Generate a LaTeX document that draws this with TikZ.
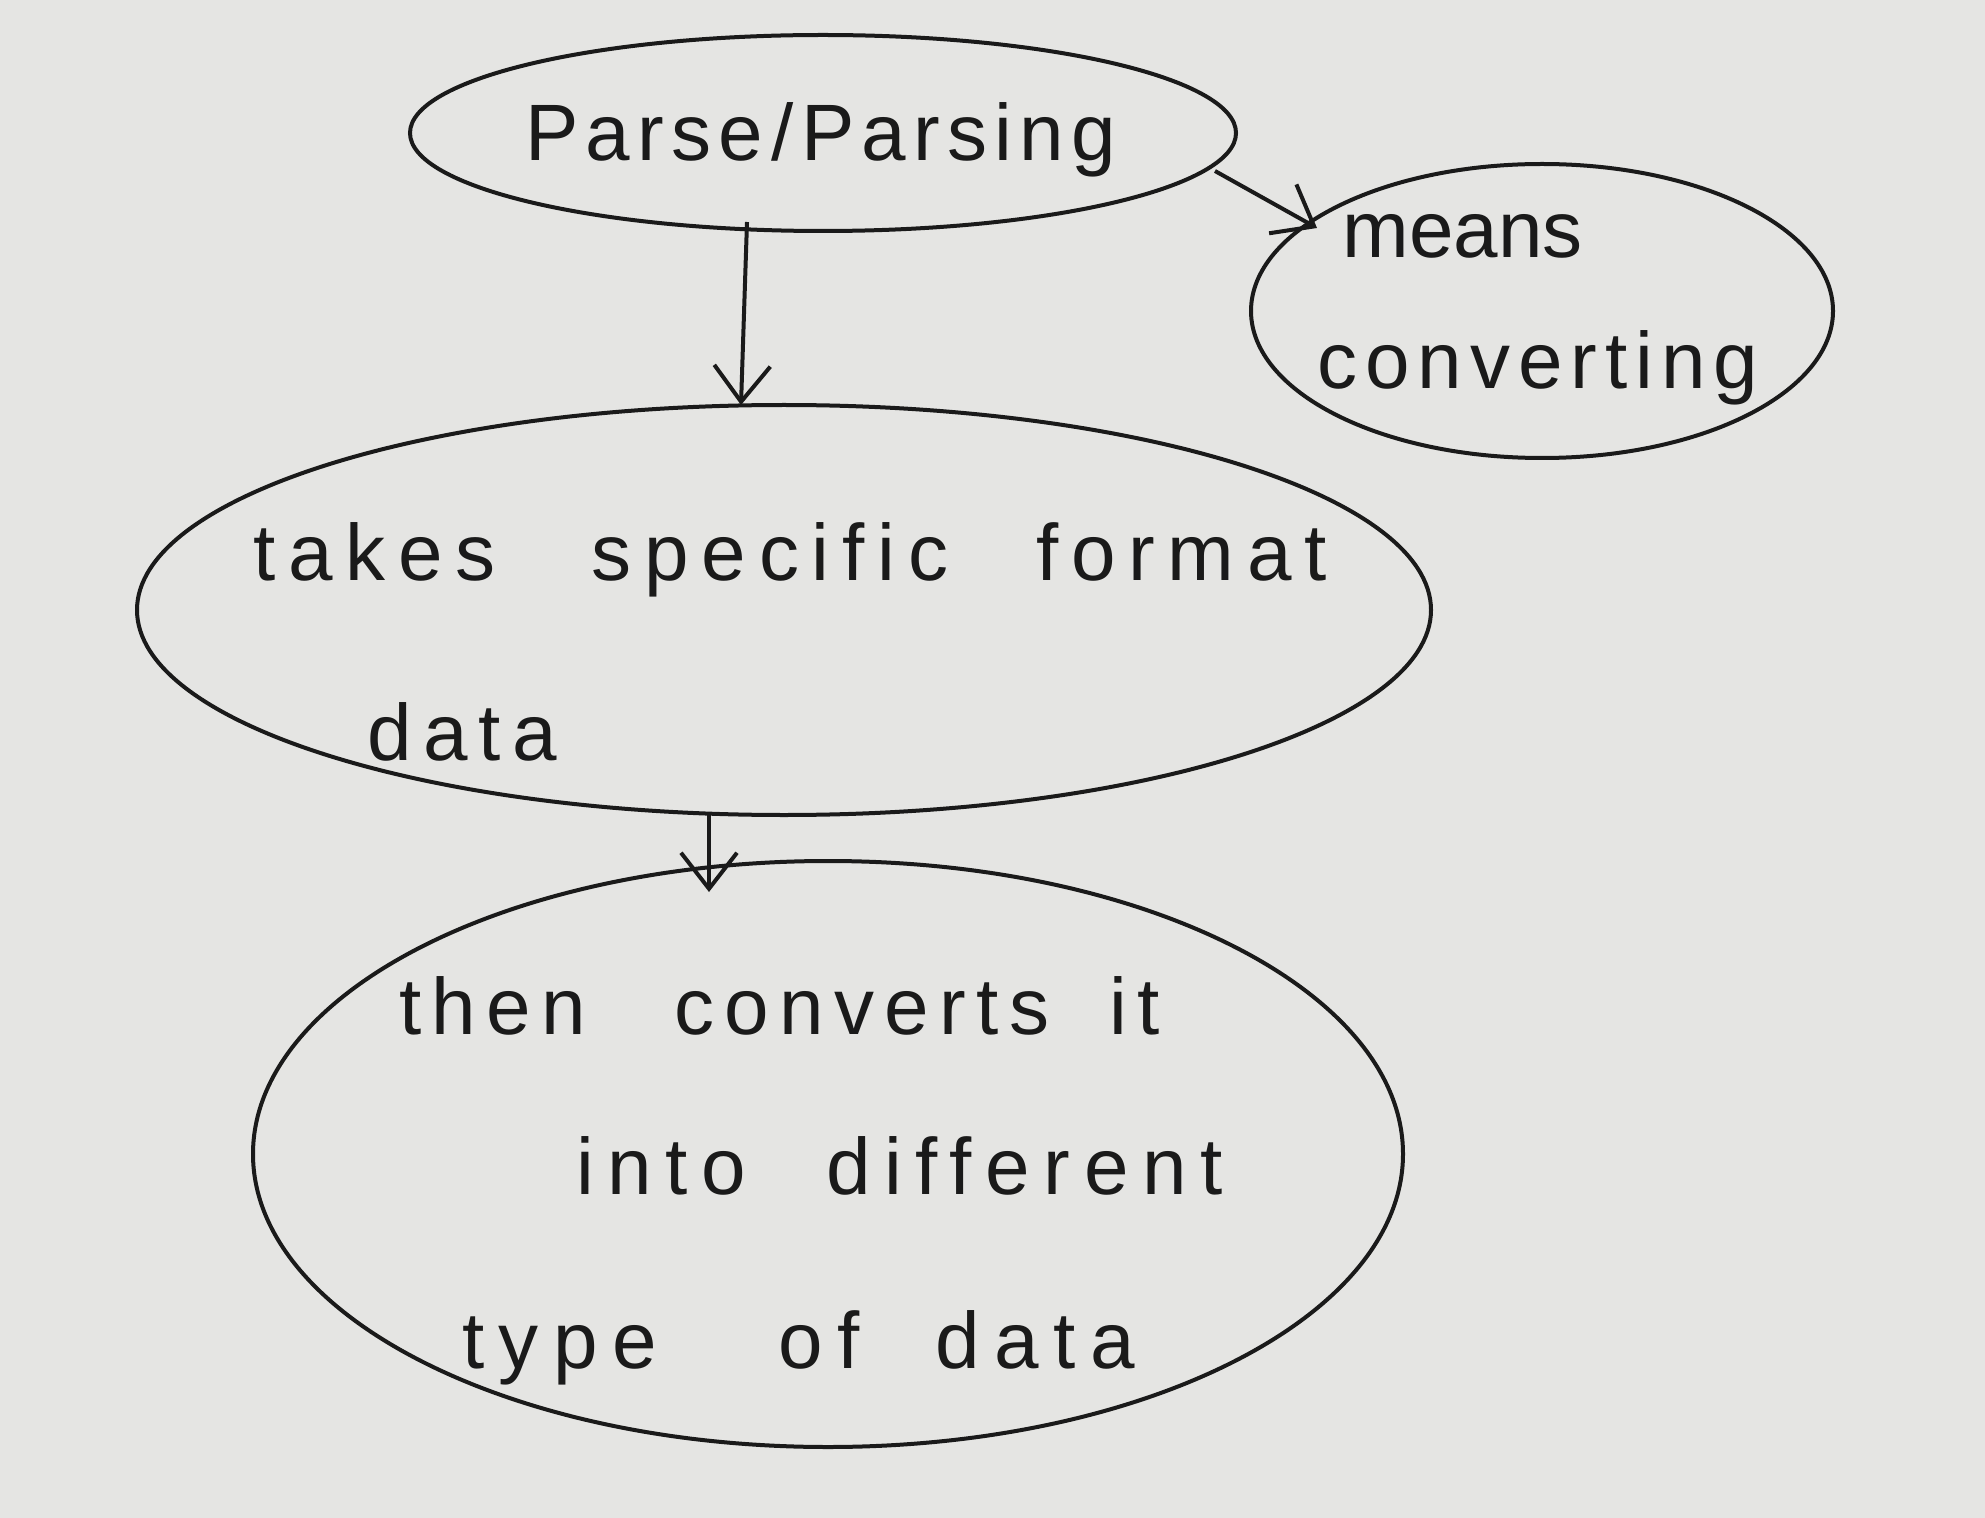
\documentclass[tikz,border=0pt]{standalone}
\usepackage{fontspec}
\setmainfont{Liberation Sans}
\usetikzlibrary{shapes.geometric,arrows.meta}
\definecolor{paper}{HTML}{E5E5E3}
\definecolor{ink}{HTML}{1A1A1A}
\newcommand{\ls}[1]{\addfontfeature{LetterSpace=#1}}
\tikzset{
  bubble/.style={draw=ink, line width=2pt, ellipse, inner sep=0pt, outer sep=0pt},
  arr/.style={draw=ink, line width=2pt, -{Straight Barb[length=18pt,width=28pt,line width=2pt]}},
  hand/.style={text=ink, font=\fontsize{40}{48}\selectfont, inner sep=0pt, anchor=west}
}
\begin{document}
\begin{tikzpicture}[x=0.5pt,y=-0.5pt]
\fill[paper] (0,0) rectangle (1985,1518);
\useasboundingbox (0,0) rectangle (1985,1518);
% bubbles
\node[bubble, minimum width=413pt, minimum height=98pt] (e1) at (823,133) {};
\node[bubble, minimum width=291pt, minimum height=147pt] (e2) at (1542,311) {};
\node[bubble, minimum width=647pt, minimum height=205pt] (e3) at (784,610) {};
\node[bubble, minimum width=575pt, minimum height=293pt] (e4) at (828,1154) {};
% texts
\node[hand] (t1) at (525,140) {\ls{9}Parse\hspace{4pt}/\hspace{4pt}Parsing};
\node[hand] (t2a) at (1342,236) {\ls{0}means};
\node[hand] (t2b) at (1317,368) {\ls{10}converting};
\node[hand] (t3a) at (253,560) {\ls{16}takes\hspace{48pt}specific\hspace{44pt}format};
\node[hand] (t3b) at (367,732) {\ls{14}data};
\node[hand] (t4a) at (399,1006) {\ls{13}then\hspace{44pt}converts\hspace{30pt}it};
\node[hand] (t4b) at (576,1166) {\ls{17}into\hspace{40pt}different};
\node[hand] (t4c) at (462,1348) {\ls{18}type\hspace{61pt}of\hspace{38pt}data};
% connectors
\draw[arr] ([xshift=-38pt,yshift=4.5pt]e1.south) -- ([xshift=-21.5pt]e3.north);
\draw[arr] ([xshift=-10.5pt,yshift=-19pt]e1.east) -- ([xshift=33pt,yshift=41.5pt]e2.west);
\draw[arr] ([xshift=-37.5pt]e3.south) -- ([xshift=-59.5pt,yshift=-15.5pt]e4.north);
\end{tikzpicture}
\end{document}
